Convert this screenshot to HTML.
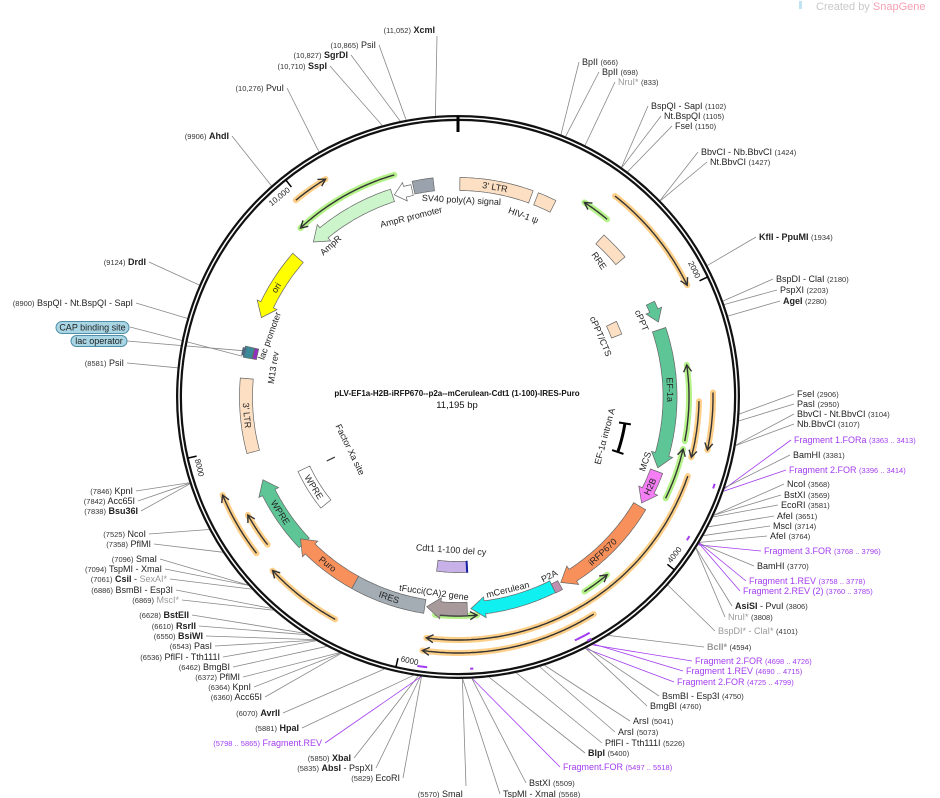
<!DOCTYPE html>
<html><head><meta charset="utf-8"><style>
html,body{margin:0;padding:0;background:#fff;}
svg{display:block;font-family:"Liberation Sans",sans-serif;}
.e{font-size:9px;fill:#222;}
.n{font-size:7.5px;fill:#333;}
.b{font-weight:bold;}
.g{fill:#999;}
.p{fill:#a33cf0;}
.fl{font-size:9px;fill:#222;text-anchor:middle;dominant-baseline:central;}
.tk{font-size:8px;fill:#222;dominant-baseline:central;}
</style></head><body>
<svg id="s" width="940" height="798" viewBox="0 0 940 798" xmlns="http://www.w3.org/2000/svg">
<g id="lines"></g>
<g id="prim"></g>
<g id="feat"></g>
<circle cx="458" cy="397" r="279" fill="none" stroke="#111" stroke-width="6"/>
<circle cx="458" cy="397" r="279" fill="none" stroke="#fff" stroke-width="1.5"/>
<g id="ticks"></g>

<text x="816" y="10" font-size="11" fill="#c8c8c8">Created by <tspan fill="#f7a0b4">SnapGene</tspan></text>
<rect x="799" y="1" width="3" height="8" fill="#bfe3f0"/>

<text x="457" y="396" text-anchor="middle" font-size="8" font-weight="bold" fill="#111">pLV-EF1a-H2B-iRFP670--p2a--mCerulean-Cdt1 (1-100)-IRES-Puro</text>
<text x="457" y="408" text-anchor="middle" font-size="9.5" fill="#111">11,195 bp</text>

<!-- feature labels -->
<text class="fl" pa="10" pr="213" rot="10">3' LTR</text>
<text class="fl" pa="19.8" pr="193" rot="20">HIV-1 ψ</text>
<text class="fl" pa="1" pr="197" rot="3">SV40 poly(A) signal</text>
<text class="fl" pa="345.4" pr="186" rot="-14">AmpR promoter</text>
<text class="fl" pa="320" pr="198" rot="-42">AmpR</text>
<text class="fl" pa="301" pr="212" rot="-58">ori</text>
<text class="fl" pa="288" pr="198" rot="-70">lac promoter</text>
<text class="fl" pa="279" pr="187" rot="-81">M13 rev</text>
<text class="fl" pa="265" pr="212" rot="85">3' LTR</text>
<text class="fl" pa="237" pr="212" rot="57">WPRE</text>
<text class="fl" pa="218" pr="212" rot="38">Puro</text>
<text class="fl" pa="199" pr="212" rot="19">IRES</text>
<text class="fl" pa="187" pr="197" rot="8">tFucci(CA)2 gene</text>
<text class="fl" pa="165.5" pr="199" rot="-14">mCerulean</text>
<text class="fl" pa="153" pr="201" rot="-27">P2A</text>
<text class="fl" pa="137" pr="212" rot="-43">iRFP670</text>
<text class="fl" pa="115" pr="212" rot="-65">H2B</text>
<text class="fl" pa="109" pr="198" rot="-71">MCS</text>
<text class="fl" pa="88" pr="212" rot="88">EF-1a</text>
<text class="fl" pa="67.4" pr="199" rot="67">cPPT</text>
<text class="fl" pa="67" pr="155" rot="67">cPPT/CTS</text>
<text class="fl" pa="46" pr="196" rot="55">RRE</text>
<text class="fl" pa="105" pr="152" rot="-75">EF-1α intron A</text>
<text class="fl" pa="244" pr="120" rot="64">Factor Xa site</text>
<text class="fl" pa="238" pr="170" rot="58">WPRE</text>
<text class="fl" pa="182.6" pr="153" rot="4">Cdt1 1-100 del cy</text>

<!-- ring tick labels -->
<text class="tk" pa="63.6" pr="268" rot="64" text-anchor="end">2000</text>
<text class="tk" pa="320.9" pr="268" rot="-39" text-anchor="end">10,000</text>
<text class="tk" pa="128" pr="268" rot="-52" text-anchor="start">4000</text>
<text class="tk" pa="192.3" pr="268" rot="13" text-anchor="start">6000</text>
<text class="tk" pa="256.6" pr="268" rot="77" text-anchor="start">8000</text>

<!-- right labels -->
<g class="e" id="R">
<text x="582" y="65">BpII <tspan class="n">(666)</tspan></text>
<text x="602" y="75">BpII <tspan class="n">(698)</tspan></text>
<text x="618" y="85"><tspan class="g">NruI*</tspan> <tspan class="n">(833)</tspan></text>
<text x="651" y="109">BspQI - SapI <tspan class="n">(1102)</tspan></text>
<text x="664" y="119">Nt.BspQI <tspan class="n">(1105)</tspan></text>
<text x="675" y="129">FseI <tspan class="n">(1150)</tspan></text>
<text x="701" y="155">BbvCI - Nb.BbvCI <tspan class="n">(1424)</tspan></text>
<text x="710" y="165">Nt.BbvCI <tspan class="n">(1427)</tspan></text>
<text x="759" y="240"><tspan class="b">KflI - PpuMI</tspan> <tspan class="n">(1934)</tspan></text>
<text x="776" y="282">BspDI - ClaI <tspan class="n">(2180)</tspan></text>
<text x="780" y="293">PspXI <tspan class="n">(2203)</tspan></text>
<text x="783" y="304"><tspan class="b">AgeI</tspan> <tspan class="n">(2280)</tspan></text>
<text x="797" y="397">FseI <tspan class="n">(2906)</tspan></text>
<text x="797" y="407">PasI <tspan class="n">(2950)</tspan></text>
<text x="797" y="417">BbvCI - Nt.BbvCI <tspan class="n">(3104)</tspan></text>
<text x="797" y="427">Nb.BbvCI <tspan class="n">(3107)</tspan></text>
<text x="794" y="443" class="p">Fragment 1.FORa <tspan class="n p">(3363 .. 3413)</tspan></text>
<text x="793" y="458">BamHI <tspan class="n">(3381)</tspan></text>
<text x="789" y="473" class="p">Fragment 2.FOR <tspan class="n p">(3396 .. 3414)</tspan></text>
<text x="787" y="487">NcoI <tspan class="n">(3568)</tspan></text>
<text x="784" y="498">BstXI <tspan class="n">(3569)</tspan></text>
<text x="781" y="508">EcoRI <tspan class="n">(3581)</tspan></text>
<text x="777" y="519">AfeI <tspan class="n">(3651)</tspan></text>
<text x="773" y="529">MscI <tspan class="n">(3714)</tspan></text>
<text x="770" y="539">AfeI <tspan class="n">(3764)</tspan></text>
<text x="764" y="554" class="p">Fragment 3.FOR <tspan class="n p">(3768 .. 3796)</tspan></text>
<text x="757" y="569">BamHI <tspan class="n">(3770)</tspan></text>
<text x="749" y="584" class="p">Fragment 1.REV <tspan class="n p">(3758 .. 3778)</tspan></text>
<text x="743" y="594" class="p">Fragment 2.REV (2) <tspan class="n p">(3760 .. 3785)</tspan></text>
<text x="735" y="609"><tspan class="b">AsiSI</tspan> - PvuI <tspan class="n">(3806)</tspan></text>
<text x="728" y="620"><tspan class="g">NruI*</tspan> <tspan class="n">(3808)</tspan></text>
<text x="718" y="634"><tspan class="g">BspDI* - ClaI*</tspan> <tspan class="n">(4101)</tspan></text>
<text x="707" y="650"><tspan class="g b">BcII*</tspan> <tspan class="n">(4594)</tspan></text>
<text x="695" y="664" class="p">Fragment 2.FOR <tspan class="n p">(4698 .. 4726)</tspan></text>
<text x="686" y="674" class="p">Fragment 1.REV <tspan class="n p">(4690 .. 4715)</tspan></text>
<text x="677" y="685" class="p">Fragment 2.FOR <tspan class="n p">(4725 .. 4799)</tspan></text>
<text x="662" y="699">BsmBI - Esp3I <tspan class="n">(4750)</tspan></text>
<text x="650" y="709">BmgBI <tspan class="n">(4760)</tspan></text>
<text x="633" y="724">ArsI <tspan class="n">(5041)</tspan></text>
<text x="618" y="735">ArsI <tspan class="n">(5073)</tspan></text>
<text x="605" y="746">PflFI - Tth111I <tspan class="n">(5226)</tspan></text>
<text x="588" y="756"><tspan class="b">BlpI</tspan> <tspan class="n">(5400)</tspan></text>
<text x="563" y="770" class="p">Fragment.FOR <tspan class="n p">(5497 .. 5518)</tspan></text>
<text x="529" y="786">BstXI <tspan class="n">(5509)</tspan></text>
<text x="503" y="797">TspMI - XmaI <tspan class="n">(5568)</tspan></text>
</g>

<!-- left labels -->
<g class="e" text-anchor="end">
<text x="463" y="797"><tspan class="n">(5570)</tspan> SmaI</text>
<text x="400" y="781"><tspan class="n">(5829)</tspan> EcoRI</text>
<text x="373" y="771"><tspan class="n">(5835)</tspan> <tspan class="b">AbsI</tspan> - PspXI</text>
<text x="351" y="761"><tspan class="n">(5850)</tspan> <tspan class="b">XbaI</tspan></text>
<text x="322" y="746" class="p"><tspan class="n p">(5798 .. 5865)</tspan> Fragment.REV</text>
<text x="299" y="731"><tspan class="n">(5881)</tspan> <tspan class="b">HpaI</tspan></text>
<text x="280" y="716"><tspan class="n">(6070)</tspan> <tspan class="b">AvrII</tspan></text>
<text x="262" y="700"><tspan class="n">(6360)</tspan> Acc65I</text>
<text x="251" y="690"><tspan class="n">(6364)</tspan> KpnI</text>
<text x="240" y="680"><tspan class="n">(6372)</tspan> PflMI</text>
<text x="230" y="670"><tspan class="n">(6462)</tspan> BmgBI</text>
<text x="220" y="660"><tspan class="n">(6536)</tspan> PflFI - Tth111I</text>
<text x="212" y="649"><tspan class="n">(6543)</tspan> PasI</text>
<text x="203" y="639"><tspan class="n">(6550)</tspan> <tspan class="b">BsiWI</tspan></text>
<text x="196" y="629"><tspan class="n">(6610)</tspan> <tspan class="b">RsrII</tspan></text>
<text x="189" y="618"><tspan class="n">(6628)</tspan> <tspan class="b">BstEII</tspan></text>
<text x="179" y="603"><tspan class="n">(6869)</tspan> <tspan class="g">MscI*</tspan></text>
<text x="173" y="593"><tspan class="n">(6886)</tspan> BsmBI - Esp3I</text>
<text x="167" y="582"><tspan class="n">(7061)</tspan> <tspan class="b">CsiI</tspan> - <tspan class="g">SexAI*</tspan></text>
<text x="162" y="572"><tspan class="n">(7094)</tspan> TspMI - XmaI</text>
<text x="157" y="562"><tspan class="n">(7096)</tspan> SmaI</text>
<text x="151" y="547"><tspan class="n">(7358)</tspan> PflMI</text>
<text x="146" y="537"><tspan class="n">(7525)</tspan> NcoI</text>
<text x="138" y="514"><tspan class="n">(7838)</tspan> <tspan class="b">Bsu36I</tspan></text>
<text x="135" y="504"><tspan class="n">(7842)</tspan> Acc65I</text>
<text x="133" y="494"><tspan class="n">(7846)</tspan> KpnI</text>
<text x="124" y="366"><tspan class="n">(8581)</tspan> PsiI</text>
<text x="133" y="306"><tspan class="n">(8900)</tspan> BspQI - Nt.BspQI - SapI</text>
<text x="146" y="265"><tspan class="n">(9124)</tspan> <tspan class="b">DrdI</tspan></text>
<text x="229" y="139"><tspan class="n">(9906)</tspan> <tspan class="b">AhdI</tspan></text>
<text x="284" y="91"><tspan class="n">(10,276)</tspan> PvuI</text>
<text x="327" y="69"><tspan class="n">(10,710)</tspan> <tspan class="b">SspI</tspan></text>
<text x="348" y="58"><tspan class="n">(10,827)</tspan> <tspan class="b">SgrDI</tspan></text>
<text x="376" y="48"><tspan class="n">(10,865)</tspan> PsiI</text>
<text x="435" y="33"><tspan class="n">(11,052)</tspan> <tspan class="b">XcmI</tspan></text>
</g>

<rect x="56" y="321.5" width="73" height="12" rx="6" fill="#a9d6e5" stroke="#4f8ea6" stroke-width="1"/>
<text x="92.5" y="330.5" text-anchor="middle" font-size="9" fill="#222">CAP binding site</text>
<rect x="71" y="335.5" width="56" height="11" rx="5.5" fill="#a9d6e5" stroke="#4f8ea6" stroke-width="1"/>
<text x="99" y="344" text-anchor="middle" font-size="9" fill="#222">lac operator</text>
</svg>
<script>
const cx=458,cy=397,NS="http://www.w3.org/2000/svg",L=11195;
function P(a,r){const t=a*Math.PI/180;return [cx+r*Math.sin(t),cy-r*Math.cos(t)];}
function ang(bp){return bp/L*360;}
function el(tag,attrs,parent){const e=document.createElementNS(NS,tag);for(const k in attrs)e.setAttribute(k,attrs[k]);parent.appendChild(e);return e;}
function arc(a1,a2,r){const pts=[];const n=Math.max(2,Math.ceil(Math.abs(a2-a1)*2));for(let i=0;i<=n;i++){pts.push(P(a1+(a2-a1)*i/n,r));}return pts;}
const G=document.getElementById('feat'),PR=document.getElementById('prim'),LN=document.getElementById('lines'),TK=document.getElementById('ticks');
function F(a1,a2,r,w,fill,dir){
  let pts;
  if(dir===0){pts=arc(a1,a2,r+w/2).concat(arc(a2,a1,r-w/2));}
  else{
    let s=a1,e=a2; if(dir===-1){s=a2;e=a1;}
    const sg=e>s?1:-1; let h=14/r*180/Math.PI; h=Math.min(h,Math.abs(e-s)*0.6);
    const b=e-sg*h;
    pts=arc(s,b,r+w/2).concat([P(b,r+w/2+4),P(e,r),P(b,r-w/2-4)]).concat(arc(b,s,r-w/2));
  }
  el('path',{d:'M'+pts.map(p=>p[0].toFixed(1)+','+p[1].toFixed(1)).join('L')+'Z',fill:fill,stroke:'#666','stroke-width':0.7},G);
}
const BE='#fde0c4';
F(0.5,20,213,13,BE,0);F(21.5,26.5,213,13,BE,0);F(348,353.5,214,13,'#9aa3ad',0);
F(342.5,347.5,212,11,'#fff',-1);F(317,342,212,13,'#ccf5cc',-1);F(292,311,212,14,'#ffff00',-1);
F(255,275,212,13,BE,0);F(226.5,247,212,14,'#5ec597',1);F(209,228,212,14,'#f7905a',1);
F(189,209,212,14,'#a4acb4',0);F(177.5,188.5,212,13,'#a89a9a',1);F(153.5,176.5,212,13,'#10f0f0',1);
F(151.5,153.5,214,10,'#c090b0',0);F(121,151,212,14,'#f7905a',1);F(110.5,120,212,13,'#f57ef5',1);
F(71.5,109.5,212,14,'#5ec597',1);F(64,69.5,214,9,'#5ec597',1);F(42,50,212,12,BE,0);
F(64.5,69,170,11,BE,0);F(231,245,170,13,'#fff',0);F(177,187,170,11,'#c8b0e8',0);
{const a=P(177,164),b=P(177,176);el('line',{x1:a[0],y1:a[1],x2:b[0],y2:b[1],stroke:'#1020a0','stroke-width':2},G);}
F(280.5,283.5,214,9,'#3a8a9a',0);F(280.5,283.5,207,4,'#9030c0',0);F(281,283,219,3,'#4a6a8a',0);
{const p=arc(99,109,169);el('path',{d:'M'+p.map(q=>q.join(',')).join('L'),fill:'none',stroke:'#000','stroke-width':3},G);
 [99,109].forEach(a=>{const u=P(a,163),v=P(a,175);el('line',{x1:u[0],y1:u[1],x2:v[0],y2:v[1],stroke:'#000','stroke-width':2},G);});}
{const u=P(244,137),v=P(244,146);el('line',{x1:u[0],y1:u[1],x2:v[0],y2:v[1],stroke:'#333','stroke-width':1.2},G);}
function Pr(a1,a2,r,c,head){
  const halo=c==='o'?'#fdcf88':'#b5f28a';const p=arc(a1,a2,r);const d='M'+p.map(q=>q[0].toFixed(1)+','+q[1].toFixed(1)).join('L');
  el('path',{d:d,fill:'none',stroke:halo,'stroke-width':6,'stroke-linecap':'round'},PR);
  el('path',{d:d,fill:'none',stroke:'#333','stroke-width':1.4},PR);
  const other=head===a1?a2:a1;const sg=other>head?1:-1;const hb=head+sg*7/r*180/Math.PI;
  const t=P(head,r),u=P(hb,r+4),v=P(hb,r-4);
  el('path',{d:`M${u}L${t}L${v}`,fill:'none',stroke:'#333','stroke-width':1.4},PR);
}
Pr(33,40,232,'g',33);Pr(38,64,255,'o',64);Pr(82,101,231,'g',82);Pr(91,104.5,241,'o',104.5);
Pr(89,102,255,'o',102);Pr(103,116,231,'g',103);Pr(109,187.5,243,'o',187.5);Pr(148,188,256,'o',188);
Pr(175,186,219,'g',175);Pr(140,147,232,'g',140);Pr(320.5,328.7,255,'o',328.7);Pr(317,344,231,'g',317);
Pr(232.2,247.4,255,'o',247.4);Pr(232.2,240.7,241,'o',240.7);Pr(208.9,226.9,254,'o',226.9);
[0,2000,4000,6000,8000,10000].forEach(bp=>{const a=ang(bp);const u=P(a,bp?277:281),v=P(a,bp?268:265);
 el('line',{x1:u[0],y1:u[1],x2:v[0],y2:v[1],stroke:'#000','stroke-width':bp?1.5:3},TK);});
[[3380,3412,271],[3763,3795,270],[4690,4800,270],[4700,4730,276],[5497,5518,272],[5800,5865,272]].forEach(m=>{
 const p=arc(ang(m[0]),ang(m[1]),m[2]);el('path',{d:'M'+p.map(q=>q.join(',')).join('L'),fill:'none',stroke:'#a33cf0','stroke-width':2},TK);});
const R=[[582,62,666],[602,72,698],[618,82,833],[651,106,1102],[664,116,1105],[675,126,1150],[701,152,1424],[710,162,1427],[759,237,1934],[776,279,2180],[780,290,2203],[783,301,2280],[797,394,2906],[797,404,2950],[797,414,3104],[797,424,3107],[794,440,3388,1],[793,455,3381],[789,470,3405,1],[787,484,3568],[784,495,3569],[781,505,3581],[777,516,3651],[773,526,3714],[770,536,3764],[764,551,3782,1],[757,566,3770],[749,581,3768,1],[743,591,3772,1],[735,606,3806],[728,617,3808],[718,631,4101],[707,647,4594],[695,661,4712,1],[686,671,4702,1],[677,682,4762,1],[662,696,4750],[650,706,4760],[633,721,5041],[618,732,5073],[605,743,5226],[588,753,5400],[563,767,5507,1],[529,783,5509],[503,794,5568]];
R.forEach(q=>{const t=P(ang(q[2]),282);el('line',{x1:q[0]-3,y1:q[1],x2:t[0],y2:t[1],stroke:q[3]?'#a33cf0':'#888','stroke-width':0.8},LN);});
const Lf=[[463,786,5570],[400,778,5829],[373,768,5835],[351,758,5850],[322,743,5831,1],[299,728,5881],[280,713,6070],[262,697,6360],[251,687,6364],[240,677,6372],[230,667,6462],[220,657,6536],[212,646,6543],[203,636,6550],[196,626,6610],[189,615,6628],[179,600,6869],[173,590,6886],[167,579,7061],[162,569,7094],[157,559,7096],[151,544,7358],[146,534,7525],[138,511,7838],[135,501,7842],[133,491,7846],[124,363,8581],[133,303,8900],[146,262,9124],[229,136,9906],[284,88,10276],[327,66,10710],[348,55,10827],[376,45,10865],[434,36,11052]];
Lf.forEach(q=>{const t=P(ang(q[2]),282);el('line',{x1:q[0]+3,y1:q[1],x2:t[0],y2:t[1],stroke:q[3]?'#a33cf0':'#888','stroke-width':0.8},LN);});
[[130,327,281],[127,341,282.5]].forEach(q=>{const t=P(q[2],214);el('line',{x1:q[0],y1:q[1],x2:t[0]-6,y2:t[1],stroke:'#888','stroke-width':0.8},LN);});
document.querySelectorAll('text[pa]').forEach(t=>{const a=+t.getAttribute('pa'),r=+t.getAttribute('pr'),rot=+t.getAttribute('rot');const p=P(a,r);
 t.setAttribute('x',p[0].toFixed(1));t.setAttribute('y',p[1].toFixed(1));t.setAttribute('transform',`rotate(${rot} ${p[0].toFixed(1)} ${p[1].toFixed(1)})`);});
</script>
</body></html>
